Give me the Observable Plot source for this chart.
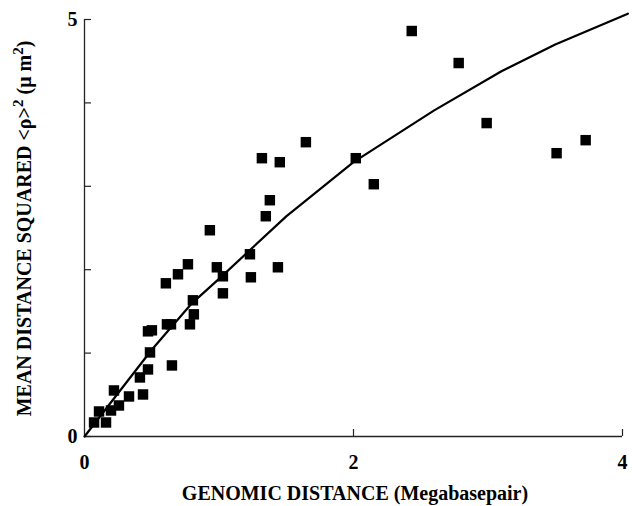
<!DOCTYPE html>
<html>
<head>
<meta charset="utf-8">
<script src="https://cdn.jsdelivr.net/npm/d3@7"></script>
<script src="https://cdn.jsdelivr.net/npm/@observablehq/plot@0.6"></script>
<style>
  html, body { margin: 0; padding: 0; background: #fff; }
  #chart svg { display: block; }
</style>
</head>
<body>
<div id="chart"></div>
<script>
// Scatter data: genomic distance (Mbp) vs mean squared distance (µm²)
const genomicDistance = [0.071, 0.160, 0.108, 0.197, 0.256, 0.219, 0.331, 0.435, 0.412, 0.472,
  0.650, 0.487, 0.472, 0.501, 0.613, 0.643, 0.784, 0.813, 0.806, 1.029,
  0.605, 0.695, 0.769, 0.984, 1.029, 1.237, 1.438, 1.230, 0.932, 1.348,
  1.378, 1.319, 1.452, 1.646, 2.017, 2.151, 2.433, 2.782, 2.990, 3.510, 3.726];
const meanDistanceSq = [0.168, 0.168, 0.300, 0.312, 0.372, 0.552, 0.480, 0.504, 0.708, 0.804,
  0.852, 1.008, 1.261, 1.273, 1.345, 1.345, 1.345, 1.465, 1.633, 1.717,
  1.837, 1.945, 2.065, 2.029, 1.921, 1.909, 2.029, 2.185, 2.473, 2.641,
  2.833, 3.337, 3.289, 3.529, 3.337, 3.025, 4.862, 4.478, 3.758, 3.397, 3.553];

// Model curve
const curveX = [0, 0.50, 0.80, 1.00, 1.50, 2.00, 2.60, 3.10, 3.50, 4.04];
const curveY = [0, 1.04, 1.60, 1.89, 2.64, 3.29, 3.91, 4.38, 4.70, 5.07];

const xTicks = [0, 2, 4];
const yTicks = [0, 1, 2, 3, 4, 5];
const yTickLabels = ["0", "", "", "", "", "5"];

const points = genomicDistance.map((x, i) => ({x, y: meanDistanceSq[i]}));
const curve = curveX.map((x, i) => ({x, y: curveY[i]}));

const W = 632, H = 506, mL = 84, mR = 10, mT = 19, mB = 70;
const plotW = W - mL - mR, plotH = H - mT - mB;
const FONT = "'Liberation Serif', 'Times New Roman', serif";

const chart = Plot.plot({
  width: W, height: H,
  marginLeft: mL, marginRight: mR, marginTop: mT, marginBottom: mB,
  x: {domain: [0, 4]},
  y: {domain: [0, 5]},
  style: {fontFamily: FONT, fontWeight: "bold", fontSize: "20px", color: "#000", background: "#fff", overflow: "visible"},
  marks: [
    // axis lines
    Plot.ruleX([0], {stroke: "#222", strokeWidth: 1.3}),
    Plot.ruleY([0], {stroke: "#222", strokeWidth: 1.3}),
    // inward tick marks
    Plot.ruleY(yTicks, {y: d => d, insetRight: plotW - 7, stroke: "#222", strokeWidth: 1.2}),
    Plot.ruleX(xTicks.slice(1), {x: d => d, insetTop: plotH - 7, stroke: "#222", strokeWidth: 1.2}),
    // tick labels
    Plot.axisX({ticks: xTicks, tickSize: 0, tickPadding: 18, label: null, fontSize: 20, fontWeight: "bold",
      tickFormat: d => String(d), fill: "#000"}),
    Plot.axisY({ticks: yTicks, tickSize: 0, tickPadding: 7, label: null, fontSize: 20, fontWeight: "bold",
      tickFormat: d => yTickLabels[yTicks.indexOf(d)], fill: "#000"}),
    // model curve
    Plot.line(curve, {x: "x", y: "y", stroke: "#000", strokeWidth: 2.2}),
    // data squares
    Plot.dot(points, {x: "x", y: "y", symbol: "square", r: 5.9, fill: "#000", stroke: "none"})
  ]
});

const svg = d3.select(chart);
// y-axis title with superscripts
const yt = svg.append("text")
  .attr("transform", `translate(31,${(mT + H - mB) / 2 + 1}) rotate(-90)`)
  .attr("text-anchor", "middle")
  .attr("font-family", FONT)
  .attr("font-weight", "bold")
  .attr("font-size", 20)
  .attr("fill", "#000");
yt.append("tspan").text("MEAN DISTANCE SQUARED <ρ>");
yt.append("tspan").attr("baseline-shift", "super").attr("font-size", 15).text("2");
yt.append("tspan").text(" (μ m");
yt.append("tspan").attr("baseline-shift", "super").attr("font-size", 15).text("2");
yt.append("tspan").text(")");

// x-axis title
svg.append("text")
  .attr("x", 355).attr("y", 500)
  .attr("text-anchor", "middle")
  .attr("font-family", FONT)
  .attr("font-weight", "bold")
  .attr("font-size", 20)
  .attr("fill", "#000")
  .text("GENOMIC DISTANCE (Megabasepair)");

document.getElementById("chart").appendChild(chart);
</script>
</body>
</html>
